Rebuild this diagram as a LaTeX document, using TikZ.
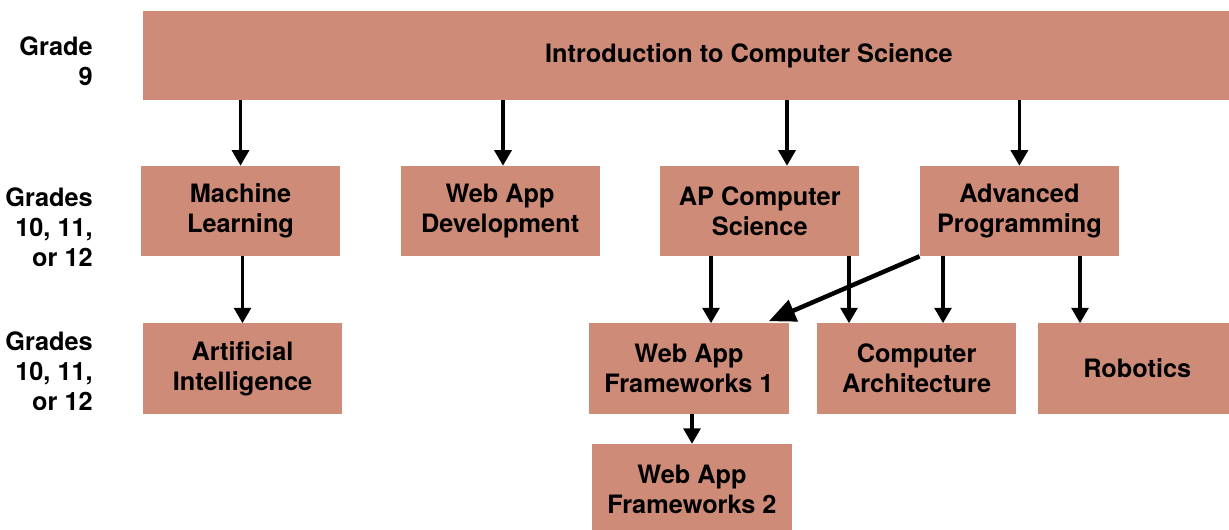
\documentclass[tikz,border=0pt]{standalone}
\usepackage{fontspec}
\setmainfont{TeX Gyre Heros}
\usetikzlibrary{arrows.meta,positioning}
\definecolor{coursefill}{HTML}{CD8B78}

\begin{document}
\begin{tikzpicture}[x=0.025cm,y=-0.025cm,node distance=1.5cm,
  txt/.style={font=\bfseries\fontsize{18}{21.3}\selectfont},
  course/.style={txt,rectangle,fill=coursefill,minimum width=4.975cm,minimum height=2.25cm,align=center,inner sep=0pt},
  grade/.style={txt,align=right,anchor=east,inner sep=0pt},
  arr/.style={-{Triangle[length=11pt,width=12pt]},line width=2.4pt},
  bighead/.style={-{Triangle[length=19pt,width=16pt]},line width=3.2pt}]
\clip (0,0) rectangle (1229,529);

% grades
\node[grade] (g9) at (93,61) {Grade\\9};
\node[grade] (g10) at (93,227) {Grades\\10, 11,\\or 12};
\node[grade] (g11) at (93,371) {Grades\\10, 11,\\or 12};

% courses
\node[course,minimum width=30.3cm,minimum height=2.225cm] (intro) at (749,55.5) {Introduction to Computer Science};

\node[course] (ml) at (240.5,211) {Machine\\Learning};
\node[course] (wad) [right = of ml] {Web App\\Development};
\node[course] (ap) [right = of wad] {AP Computer\\Science};
\node[course] (adv) [right = of ap] {Advanced\\Programming};

\node[course] (ai) at (242.5,368.5) {Artificial\\Intelligence};
\node[course] (waf1) at (689,368.5) {Web App\\Frameworks 1};
\node[course] (ca) [right = 0.7cm of waf1] {Computer\\Architecture};
\node[course] (rob) [right = 0.525cm of ca] {Robotics};
\node[course] (waf2) [below = 0.75cm of waf1, xshift=0.075cm] {Web App\\Frameworks 2};

\path[arr] (intro.south -| ml.north) edge (ml.north)
    (intro.south -| 503,0) edge (wad.north -| 503,0)
    (intro.south -| 787,0) edge (ap.north -| 787,0)
    (intro.south -| adv.north) edge (adv.north)
    (ml.south -| ai.north) edge (ai.north)
    (ap.south -| 711,0) edge (waf1.north -| 711,0)
    (ap.south -| 849,0) edge (ca.north -| 849,0)
    (adv.south -| 943,0) edge (ca.north -| 943,0)
    (adv.south -| 1080,0) edge (rob.north -| 1080,0)
    (waf1.south -| waf2.north) edge (waf2.north);
\draw[bighead] (adv.south west) -- ([xshift=-0.5cm,yshift=0.05cm]waf1.north east);
\end{tikzpicture}
\end{document}
